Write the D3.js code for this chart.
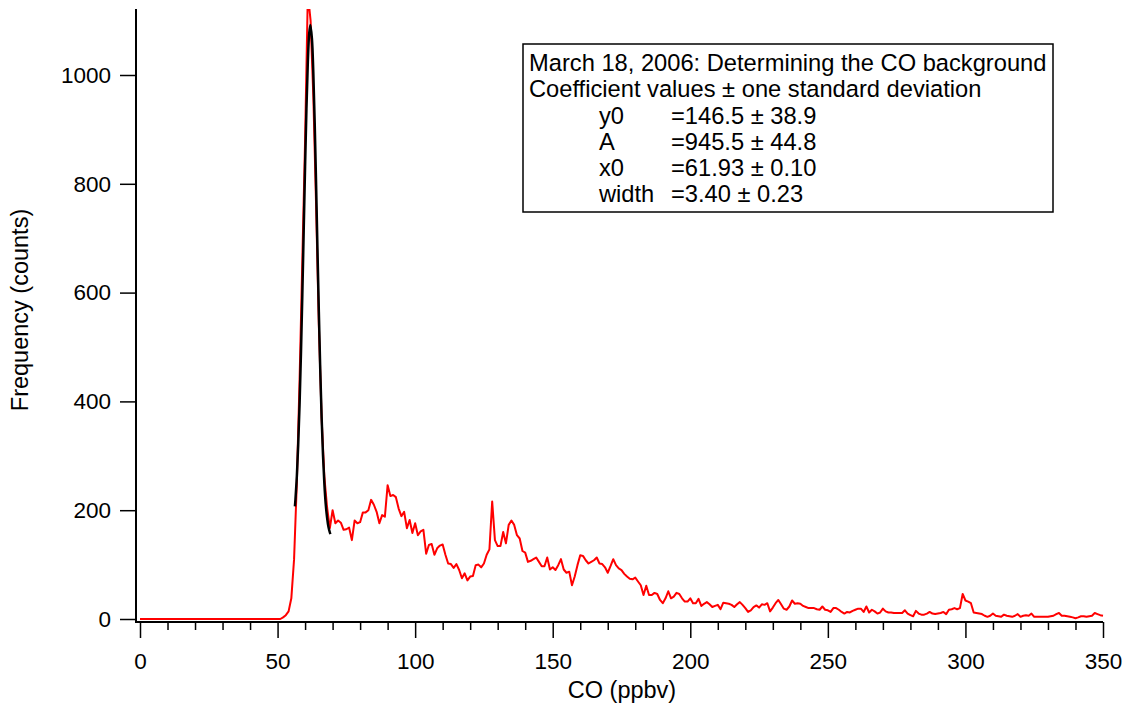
<!DOCTYPE html>
<html>
<head>
<meta charset="utf-8">
<script src="https://cdn.jsdelivr.net/npm/d3@7"></script>
<style>
  body { margin: 0; background: #fff; }
  text { font-family: "Liberation Sans", Arial, sans-serif; fill: #000; }
</style>
</head>
<body>
<script>
// histogram of CO, 1 ppbv bins starting at 0
var binStart = 0;
var binWidth = 1;
var coCounts = [
  0,0,0,0,0,0,0,0,0,0, 0,0,0,0,0,0,0,0,0,0,
  0,0,0,0,0,0,0,0,0,0, 0,0,0,0,0,0,0,0,0,0,
  0,0,0,0,0,0,0,0,0,0, 0,0,3,7,14,38,110,250,440,660,
  880,1150,1100,960,760,540,370,262,205,167,
  200,176,181,177,164,165,168,145,181,176,
  178,196,196,200,219,210,197,176,191,188,
  246,226,228,224,203,189,197,167,182,158,
  176,154,161,164,120,136,138,118,130,135,
  137,118,102,101,94,101,90,75,84,71,
  78,79,99,100,95,102,118,128,216,145,
  134,134,160,139,173,181,173,154,148,125,
  122,105,107,110,113,105,97,97,113,91,
  95,90,99,110,91,85,87,62,78,99,
  117,116,108,102,105,108,113,102,101,95,
  85,97,110,99,93,90,83,78,74,73,
  76,69,62,44,61,44,44,48,46,35,
  29,38,51,38,41,48,46,38,32,32,
  38,29,29,37,24,28,31,27,22,24,
  26,18,30,29,28,26,22,27,31,26,
  20,13,16,22,25,21,27,26,29,14,
  21,29,35,27,19,17,23,34,28,29,
  28,24,22,20,20,20,18,17,23,17,
  16,13,20,20,17,13,10,13,12,15,
  17,19,19,13,23,12,17,14,10,12,
  19,14,12,12,11,11,11,11,16,10,
  7,5,15,10,8,8,10,13,10,9,
  10,11,13,9,17,18,20,18,20,46,
  34,32,29,12,11,10,9,6,4,6,
  10,6,5,4,8,6,5,4,6,9,
  4,6,7,6,10,4,4,4,4,4,
  4,5,6,9,11,6,6,5,4,3,
  1.5,3,5,5,4,5,6,11,9,7,
  6
];

// gaussian fit curve
var fitX = [56.3,56.5,57,57.5,58,58.5,59,59.5,60,60.5,61,61.5,61.93,62.5,63,63.5,64,64.5,65,65.5,66,66.5,67,67.5,68,68.5,69,69.2];
var fitY = [207,220,262,320,395,488,596,714,832,939,1024,1077,1092,1066,1003,911,799,680,565,460,372,302,249,211,186,169,159,156];

var titleLines = ["March 18, 2006: Determining the CO background", "Coefficient values \u00b1 one standard deviation"];
var coefNames = ["y0", "A", "x0", "width"];
var coefValues = ["=146.5 \u00b1 38.9", "=945.5 \u00b1 44.8", "=61.93 \u00b1 0.10", "=3.40 \u00b1 0.23"];

var xMajor = [0,50,100,150,200,250,300,350];
var xMinor = [10,20,30,40,60,70,80,90,110,120,130,140,160,170,180,190,210,220,230,240,260,270,280,290,310,320,330,340];
var yTicks = [0,200,400,600,800,1000];

var svgWidth = 1126;
var svgHeight = 709;
var axisLeftX = 136;
var axisBottomY = 622;
var plotTop = 9;

var svg = d3.select('body').append('svg')
  .attr("width", svgWidth)
  .attr("height", svgHeight);

var x = d3.scaleLinear().domain([0, 350]).range([140, 1103]);
var y = d3.scaleLinear().domain([0, 1000]).range([619, 75]);

var defs = svg.append("defs");
defs.append("clipPath").attr("id", "plotClip")
  .append("rect")
  .attr("x", axisLeftX)
  .attr("y", plotTop)
  .attr("width", 1110 - axisLeftX)
  .attr("height", axisBottomY - plotTop);

var points = coCounts.map(function(d, i) { return [binStart + i * binWidth, d]; });

var line = d3.line()
  .x(function(d) { return x(d[0]); })
  .y(function(d) { return y(d[1]); });

svg.append("path")
  .datum(points)
  .attr("clip-path", "url(#plotClip)")
  .attr("fill", "none")
  .attr("stroke", "#ff0000")
  .attr("stroke-width", 2)
  .attr("stroke-linejoin", "round")
  .attr("d", line);

var fitLine = d3.line()
  .curve(d3.curveCatmullRom)
  .x(function(d) { return x(d[0]); })
  .y(function(d) { return y(d[1]); });

svg.append("path")
  .datum(fitX.map(function(d, i) { return [d, fitY[i]]; }))
  .attr("fill", "none")
  .attr("stroke", "#000")
  .attr("stroke-width", 2.5)
  .attr("d", fitLine);

// axes
var yAxis = svg.append("g")
  .attr("transform", "translate(" + axisLeftX + ",0)")
  .call(d3.axisLeft(y).tickValues(yTicks).tickSize(16).tickPadding(9).tickFormat(d3.format("d")));

var xAxisMinor = svg.append("g")
  .attr("transform", "translate(0," + axisBottomY + ")")
  .call(d3.axisBottom(x).tickValues(xMinor).tickSize(8).tickFormat(""));

var xAxis = svg.append("g")
  .attr("transform", "translate(0," + axisBottomY + ")")
  .call(d3.axisBottom(x).tickValues(xMajor).tickSize(16).tickPadding(15).tickFormat(d3.format("d")));

svg.selectAll(".domain").remove();
svg.selectAll(".tick line").attr("stroke", "#000").attr("stroke-width", 1.5);
svg.selectAll(".tick text").style("font-size", "22.5px").style("font-family", "Liberation Sans, Arial, sans-serif");

svg.append("line")
  .attr("x1", axisLeftX).attr("x2", axisLeftX)
  .attr("y1", plotTop).attr("y2", axisBottomY + 1)
  .attr("stroke", "#000").attr("stroke-width", 2);
svg.append("line")
  .attr("x1", axisLeftX).attr("x2", x(350))
  .attr("y1", axisBottomY).attr("y2", axisBottomY)
  .attr("stroke", "#000").attr("stroke-width", 2);

svg.append("text")
  .attr("x", 622)
  .attr("y", 698)
  .attr("text-anchor", "middle")
  .style("font-size", "23.5px")
  .text("CO (ppbv)");

svg.append("text")
  .attr("transform", "translate(28,310) rotate(-90)")
  .attr("text-anchor", "middle")
  .style("font-size", "23.5px")
  .text("Frequency (counts)");

// annotation box
svg.append("rect")
  .attr("x", 523)
  .attr("y", 44)
  .attr("width", 530)
  .attr("height", 168)
  .attr("fill", "#fff")
  .attr("stroke", "#000")
  .attr("stroke-width", 1.5);

svg.selectAll("text.title")
  .data(titleLines)
  .enter()
  .append("text")
  .attr("class", "title")
  .attr("x", 529)
  .attr("y", function(d, i) { return 71 + i * 26.2; })
  .style("font-size", "23.7px")
  .text(function(d) { return d; });

svg.selectAll("text.coefName")
  .data(coefNames)
  .enter()
  .append("text")
  .attr("class", "coefName")
  .attr("x", 599)
  .attr("y", function(d, i) { return 123.5 + i * 26.2; })
  .style("font-size", "23.7px")
  .text(function(d) { return d; });

svg.selectAll("text.coefValue")
  .data(coefValues)
  .enter()
  .append("text")
  .attr("class", "coefValue")
  .attr("x", 671)
  .attr("y", function(d, i) { return 123.5 + i * 26.2; })
  .style("font-size", "23.7px")
  .text(function(d) { return d; });
</script>
</body>
</html>
